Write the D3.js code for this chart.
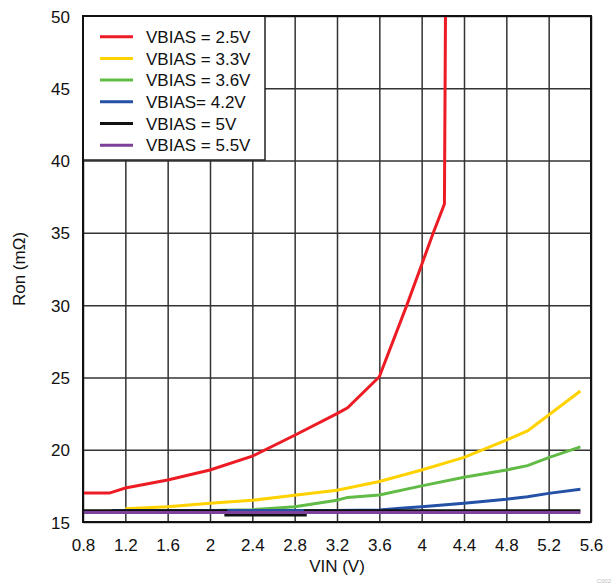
<!DOCTYPE html>
<html>
<head>
  <script src="https://d3js.org/d3.v7.min.js"></script>
  <style>
    body { margin: 0; background: white; }
    svg { display: block; font-family: "Liberation Sans", Arial, sans-serif; }
    .grid line { stroke: #333; stroke-width: 1.5px; }
    .grid path { display: none; }
    .tick text { font-size: 17px; fill: #111; }
  </style>
</head>
<body>
<svg id="chart" width="615" height="586"></svg>
<script>
  // tick labels
  const xTicks = [0.8, 1.2, 1.6, 2, 2.4, 2.8, 3.2, 3.6, 4, 4.4, 4.8, 5.2, 5.6];
  const yTicks = [15, 20, 25, 30, 35, 40, 45, 50];

  // series names / colours
  const seriesNames = ["VBIAS = 2.5V", "VBIAS = 3.3V", "VBIAS = 3.6V", "VBIAS= 4.2V", "VBIAS = 5V", "VBIAS = 5.5V"];
  const seriesColors = ["#ed1c24", "#ffd200", "#62bb46", "#2451a6", "#111111", "#7d4199"];

  // values (VIN in V, Ron in mOhm)
  const vin25 = [0.8, 1.05, 1.2, 1.6, 2.0, 2.4, 2.8, 3.2, 3.3, 3.6, 3.86, 4.0, 4.11, 4.215, 4.225];
  const ron25 = [17.0, 17.0, 17.35, 17.9, 18.6, 19.55, 21.0, 22.5, 22.9, 25.05, 30.0, 32.8, 35.0, 37.0, 50.0];

  const vin33 = [1.2, 1.6, 2.0, 2.4, 2.8, 3.2, 3.6, 4.0, 4.4, 4.8, 5.0, 5.2, 5.5];
  const ron33 = [15.92, 16.06, 16.3, 16.5, 16.85, 17.2, 17.8, 18.6, 19.47, 20.67, 21.3, 22.4, 24.06];

  const vin36 = [1.2, 1.6, 2.0, 2.4, 2.6, 2.8, 3.2, 3.3, 3.6, 4.0, 4.4, 4.8, 5.0, 5.2, 5.5];
  const ron36 = [15.8, 15.78, 15.8, 15.85, 15.95, 16.06, 16.5, 16.7, 16.87, 17.5, 18.1, 18.6, 18.9, 19.45, 20.2];

  const vin42 = [1.07, 1.2, 2.0, 3.2, 3.6, 3.8, 4.0, 4.4, 4.8, 5.0, 5.2, 5.5];
  const ron42 = [15.8, 15.8, 15.8, 15.8, 15.83, 15.95, 16.06, 16.3, 16.57, 16.75, 16.98, 17.26];

  const vin50 = [0.8, 2.15, 2.15, 2.9, 2.9, 5.5];
  const ron50 = [15.78, 15.78, 15.48, 15.48, 15.78, 15.78];

  const vin55 = [0.8, 5.5];
  const ron55 = [15.65, 15.65];

  const allVin = [vin25, vin33, vin36, vin42, vin50, vin55];
  const allRon = [ron25, ron33, ron36, ron42, ron50, ron55];

  const margin = { left: 83, top: 16, right: 24, bottom: 64 };
  const svg = d3.select("#chart");
  const width = 615 - margin.left - margin.right;
  const height = 586 - margin.top - margin.bottom;

  const x = d3.scaleLinear().domain([0.8, 5.6]).range([0, width]);
  const y = d3.scaleLinear().domain([15, 50]).range([height, 0]);

  const g = svg.append("g").attr("transform", `translate(${margin.left},${margin.top})`);

  // grid + tick labels
  g.append("g")
    .attr("class", "grid")
    .attr("transform", `translate(0,${height})`)
    .call(d3.axisBottom(x).tickValues(xTicks).tickSize(-height).tickPadding(14).tickFormat(d3.format("")))
    .selectAll("text").attr("dy", "0.9em");

  g.append("g")
    .attr("class", "grid")
    .call(d3.axisLeft(y).tickValues(yTicks).tickSize(-width).tickPadding(13))
    .selectAll("text").attr("dy", "0.36em");

  g.append("clipPath").attr("id", "plot-clip")
    .append("rect").attr("width", width).attr("height", height);

  const line = d3.line().x(d => x(d[0])).y(d => y(d[1]));

  const lines = g.append("g").attr("clip-path", "url(#plot-clip)");
  allVin.forEach((xs, i) => {
    const pts = xs.map((v, j) => [v, allRon[i][j]]);
    lines.append("path")
      .datum(pts)
      .attr("d", line)
      .attr("fill", "none")
      .attr("stroke", seriesColors[i])
      .attr("stroke-width", 3);
  });

  // legend box
  const legend = g.append("g");
  legend.append("rect")
    .attr("x", 0).attr("y", 0)
    .attr("width", 182).attr("height", 144)
    .attr("fill", "white")
    .attr("stroke", "#222")
    .attr("stroke-width", 1.5);

  seriesNames.forEach((name, i) => {
    const ly = 20.7 + i * 21.7;
    legend.append("line")
      .attr("x1", 17).attr("x2", 50)
      .attr("y1", ly).attr("y2", ly)
      .attr("stroke", seriesColors[i])
      .attr("stroke-width", 3);
    legend.append("text")
      .attr("x", 63).attr("y", ly)
      .attr("dy", "0.36em")
      .attr("font-size", 17)
      .attr("fill", "#111")
      .text(name);
  });

  // plot border
  g.append("rect")
    .attr("width", width).attr("height", height)
    .attr("fill", "none")
    .attr("stroke", "#111")
    .attr("stroke-width", 2);

  // axis titles
  svg.append("text")
    .attr("x", margin.left + width / 2)
    .attr("y", 572)
    .attr("text-anchor", "middle")
    .attr("font-size", 17)
    .attr("fill", "#111")
    .text("VIN (V)");

  svg.append("text")
    .attr("transform", `translate(25,${margin.top + height / 2}) rotate(-90)`)
    .attr("text-anchor", "middle")
    .attr("font-size", 17)
    .attr("fill", "#111")
    .text("Ron (mΩ)");

  svg.append("text")
    .attr("x", 611).attr("y", 583)
    .attr("text-anchor", "end")
    .attr("font-size", 6)
    .attr("fill", "#bbb")
    .text("C002");
</script>
</body>
</html>
